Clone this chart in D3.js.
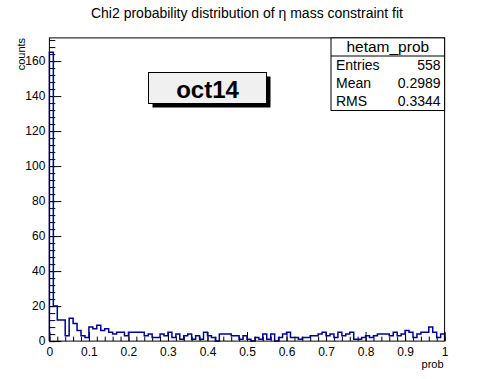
<!DOCTYPE html>
<html>
<head>
<meta charset="utf-8">
<script src="https://cdn.jsdelivr.net/npm/d3@7"></script>
<style>
  body { margin: 0; background: #fff; }
  text { font-family: "Liberation Sans", Arial, Helvetica, sans-serif; }
</style>
</head>
<body>
<div id="chart"></div>
<script>
// histogram: 100 bins over [0, 1], counts
var binLow = 0;
var binHigh = 1;
var counts = [
  165, 20, 12, 12, 3, 13, 10, 6, 3, 2,
  8, 7, 9, 6, 7, 5, 4, 5, 5, 3,
  5, 5, 5, 5, 3, 4, 2, 2, 4, 3,
  5, 2, 4, 1, 3, 4, 1, 3, 1, 5,
  3, 2, 0, 4, 4, 4, 3, 3, 1, 3,
  1, 0, 2, 1, 4, 1, 4, 0, 2, 4,
  5, 2, 2, 1, 2, 2, 3, 3, 4, 5,
  3, 4, 2, 5, 3, 4, 5, 1, 1, 2,
  3, 2, 3, 4, 4, 4, 3, 5, 3, 4,
  6, 5, 2, 4, 5, 5, 8, 5, 2, 4
];

var xTicks = [0, 0.1, 0.2, 0.3, 0.4, 0.5, 0.6, 0.7, 0.8, 0.9, 1];
var xTickLabels = ["0", "0.1", "0.2", "0.3", "0.4", "0.5", "0.6", "0.7", "0.8", "0.9", "1"];
var yTicks = [0, 20, 40, 60, 80, 100, 120, 140, 160];

var statsName = "hetam_prob";
var statsLabels = ["Entries", "Mean", "RMS"];
var statsValues = ["558", "0.2989", "0.3344"];

var chartTitle = "Chi2 probability distribution of \u03b7 mass constraint fit";
var xTitle = "prob";
var yTitle = "counts";
var padLabel = "oct14";

// canvas setup (ROOT default 10% margins)
var svgWidth = 494;
var svgHeight = 379;
var margin = { top: 37.9, right: 49.4, bottom: 37.9, left: 49.4 };
var width = svgWidth - margin.left - margin.right;
var height = svgHeight - margin.top - margin.bottom;

var svg = d3.select("#chart")
  .append("svg")
  .attr("width", svgWidth)
  .attr("height", svgHeight);

svg.append("rect")
  .attr("width", svgWidth)
  .attr("height", svgHeight)
  .attr("fill", "#fff");

var chartGroup = svg.append("g")
  .attr("transform", `translate(${margin.left}, ${margin.top})`);

var nBins = counts.length;
var binWidth = (binHigh - binLow) / nBins;
var yMax = d3.max(counts) * 1.05;

var xScale = d3.scaleLinear().domain([binLow, binHigh]).range([0, width]);
var yScale = d3.scaleLinear().domain([0, yMax]).range([height, 0]);

// minor tick positions
var xMinor = d3.range(0, 51).map(function(i) { return i * 0.02; });
var yMinor = d3.range(0, 44).map(function(i) { return i * 4; });

// axes: ticks point inside the frame
var bottomMinor = d3.axisBottom(xScale).tickValues(xMinor).tickSize(-4.5).tickFormat("");
var bottomAxis = d3.axisBottom(xScale).tickValues(xTicks).tickSize(-9.1).tickPadding(6)
  .tickFormat(function(d, i) { return xTickLabels[i]; });
var leftMinor = d3.axisLeft(yScale).tickValues(yMinor).tickSize(-5.9).tickFormat("");
var leftAxis = d3.axisLeft(yScale).tickValues(yTicks).tickSize(-11.9).tickPadding(4)
  .tickFormat(d3.format("d"));

function styleAxis(g) {
  g.select(".domain").remove();
  g.selectAll("line").attr("stroke", "#000").attr("stroke-width", 1);
  g.selectAll("text").attr("fill", "#000").style("font-size", "12px")
    .style("font-family", "'Liberation Sans', Arial, sans-serif");
}

chartGroup.append("g").attr("transform", `translate(0, ${height})`).call(bottomMinor).call(styleAxis);
chartGroup.append("g").attr("transform", `translate(0, ${height})`).call(bottomAxis).call(styleAxis);
chartGroup.append("g").call(leftMinor).call(styleAxis);
chartGroup.append("g").call(leftAxis).call(styleAxis);

// histogram outline
var points = [[binLow, 0]];
counts.forEach(function(c, i) {
  points.push([binLow + i * binWidth, c]);
  points.push([binLow + (i + 1) * binWidth, c]);
});
points.push([binHigh, 0]);

var line = d3.line()
  .x(function(d) { return xScale(d[0]); })
  .y(function(d) { return yScale(d[1]); });

chartGroup.append("path")
  .datum(points)
  .attr("d", line)
  .attr("fill", "none")
  .attr("stroke", "#000099")
  .attr("stroke-width", 1.5)
  .attr("stroke-linejoin", "miter");

// frame
chartGroup.append("rect")
  .attr("width", width)
  .attr("height", height)
  .attr("fill", "none")
  .attr("stroke", "#000")
  .attr("stroke-width", 1);

// title
svg.append("text")
  .attr("x", svgWidth / 2)
  .attr("y", 13)
  .attr("text-anchor", "middle")
  .attr("dominant-baseline", "central")
  .style("font-size", "14px")
  .text(chartTitle);

// axis titles
svg.append("text")
  .attr("x", margin.left + width - 1)
  .attr("y", 364)
  .attr("text-anchor", "end")
  .attr("dominant-baseline", "central")
  .style("font-size", "11px")
  .text(xTitle);

// y title is right-adjusted at the top of the axis
svg.append("text")
  .attr("transform", `translate(21, ${margin.top}) rotate(-90)`)
  .attr("text-anchor", "end")
  .attr("dominant-baseline", "central")
  .style("font-size", "11px")
  .text(yTitle);

// stats box
var sx0 = 331, sx1 = margin.left + width, sy0 = margin.top, sy1 = 110.5;
var stats = svg.append("g");
stats.append("rect")
  .attr("x", sx0).attr("y", sy0)
  .attr("width", sx1 - sx0).attr("height", sy1 - sy0)
  .attr("fill", "#fff").attr("stroke", "#000");
stats.append("line")
  .attr("x1", sx0).attr("x2", sx1).attr("y1", 56).attr("y2", 56)
  .attr("stroke", "#000");
stats.append("text")
  .attr("x", (sx0 + sx1) / 2).attr("y", 46.5)
  .attr("text-anchor", "middle").attr("dominant-baseline", "central")
  .style("font-size", "15.5px")
  .text(statsName);
statsLabels.forEach(function(lab, i) {
  var cy = 65 + i * 18;
  stats.append("text")
    .attr("x", sx0 + 5).attr("y", cy)
    .attr("dominant-baseline", "central")
    .style("font-size", "14px")
    .text(lab);
  stats.append("text")
    .attr("x", sx1 - 4).attr("y", cy)
    .attr("text-anchor", "end").attr("dominant-baseline", "central")
    .style("font-size", "14px")
    .text(statsValues[i]);
});

// label box with shadow
var bx0 = 148.5, bx1 = 266.5, by0 = 72.5, by1 = 103.5, sh = 4;
svg.append("rect")
  .attr("x", bx0 + sh).attr("y", by0 + sh)
  .attr("width", bx1 - bx0).attr("height", by1 - by0)
  .attr("fill", "#000");
svg.append("rect")
  .attr("x", bx0).attr("y", by0)
  .attr("width", bx1 - bx0).attr("height", by1 - by0)
  .attr("fill", "#f0f0f0").attr("stroke", "#000");
svg.append("text")
  .attr("x", (bx0 + bx1) / 2).attr("y", (by0 + by1) / 2 + 1)
  .attr("text-anchor", "middle").attr("dominant-baseline", "central")
  .style("font-size", "24px").style("font-weight", "bold")
  .text(padLabel);
</script>
</body>
</html>
